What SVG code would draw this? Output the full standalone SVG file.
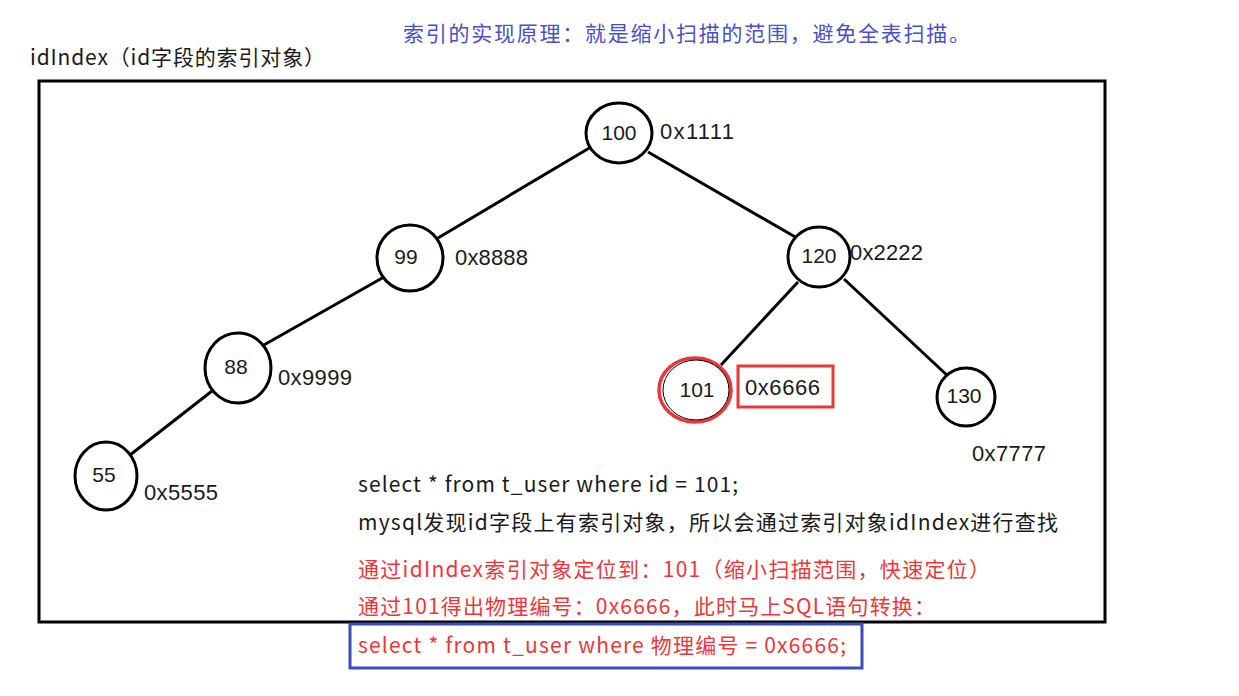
<svg xmlns="http://www.w3.org/2000/svg" width="1239" height="696" viewBox="0 0 1239 696">
<style>
text{font-family:"Liberation Sans","Noto Sans CJK SC",sans-serif;font-size:20px;fill:#1a1a1a}
.cjk{font-family:"Noto Sans CJK SC","Liberation Sans",sans-serif;font-size:21px}
.red{fill:#e8383a}
.blue{fill:#4b4fc4}
.node{fill:#fff;stroke:#000;stroke-width:3}
.edge{stroke:#000;stroke-width:3;fill:none}
.num{text-anchor:middle;font-size:21px}
.hex{font-size:22px}
</style>
<rect width="1239" height="696" fill="#fff"/>
<text class="cjk blue" x="403" y="41" textLength="567">索引的实现原理：就是缩小扫描的范围，避免全表扫描。</text>
<text class="cjk" x="30" y="65" textLength="295">idIndex（id字段的索引对象）</text>
<rect x="39" y="81" width="1066" height="541" fill="none" stroke="#000" stroke-width="3"/>
<g id="connectors">
<line class="edge" x1="591" y1="147" x2="438" y2="238"/>
<line class="edge" x1="648" y1="152" x2="797" y2="238"/>
<line class="edge" x1="384" y1="277" x2="255" y2="350"/>
<line class="edge" x1="212" y1="391" x2="130" y2="455"/>
<line class="edge" x1="798" y1="282" x2="721" y2="365"/>
<line class="edge" x1="844" y1="279" x2="950" y2="378"/>
</g>
<g id="n100"><ellipse class="node" cx="619" cy="133" rx="33" ry="30"/><text class="num" x="619" y="140">100</text><text class="hex" x="660" y="139" textLength="74">0x1111</text></g>
<g id="n99"><ellipse class="node" cx="410" cy="258" rx="33" ry="33"/><text class="num" x="406" y="264">99</text><text class="hex" x="455" y="265" textLength="73">0x8888</text></g>
<g id="n120"><ellipse class="node" cx="819" cy="257" rx="31" ry="30"/><text class="num" x="819" y="263">120</text><text class="hex" x="850" y="260" textLength="73">0x2222</text></g>
<g id="n88"><ellipse class="node" cx="238" cy="368" rx="33" ry="35"/><text class="num" x="236" y="374">88</text><text class="hex" x="278" y="385" textLength="74">0x9999</text></g>
<g id="n101"><ellipse cx="695" cy="390" rx="36" ry="32" fill="#fff" stroke="#e8383a" stroke-width="3.5"/><ellipse cx="696" cy="390" rx="33" ry="30" fill="none" stroke="#000" stroke-width="1"/><text class="num" x="697" y="397">101</text><rect x="738" y="366" width="95" height="41" fill="none" stroke="#e8383a" stroke-width="3"/><text class="hex" x="745" y="395" textLength="75">0x6666</text></g>
<g id="n130"><ellipse class="node" cx="966" cy="397" rx="29" ry="29"/><text class="num" x="964" y="403">130</text><text class="hex" x="972" y="461" textLength="74">0x7777</text></g>
<g id="n55"><ellipse class="node" cx="106" cy="476" rx="31" ry="34"/><text class="num" x="104" y="482">55</text><text class="hex" x="144" y="500" textLength="74">0x5555</text></g>
<g id="notes">
<text class="cjk" x="358" y="492" textLength="380">select * from t_user where id = 101;</text>
<text class="cjk" x="358" y="530" textLength="700">mysql发现id字段上有索引对象，所以会通过索引对象idIndex进行查找</text>
<text class="cjk red" x="358" y="577" textLength="632">通过idIndex索引对象定位到：101（缩小扫描范围，快速定位）</text>
<text class="cjk red" x="358" y="614" textLength="577">通过101得出物理编号：0x6666，此时马上SQL语句转换：</text>
<rect x="350" y="624" width="512" height="44" fill="none" stroke="#3a4bbd" stroke-width="3"/>
<text class="cjk red" x="358" y="653" textLength="488">select * from t_user where 物理编号 = 0x6666;</text>
</g>
</svg>
